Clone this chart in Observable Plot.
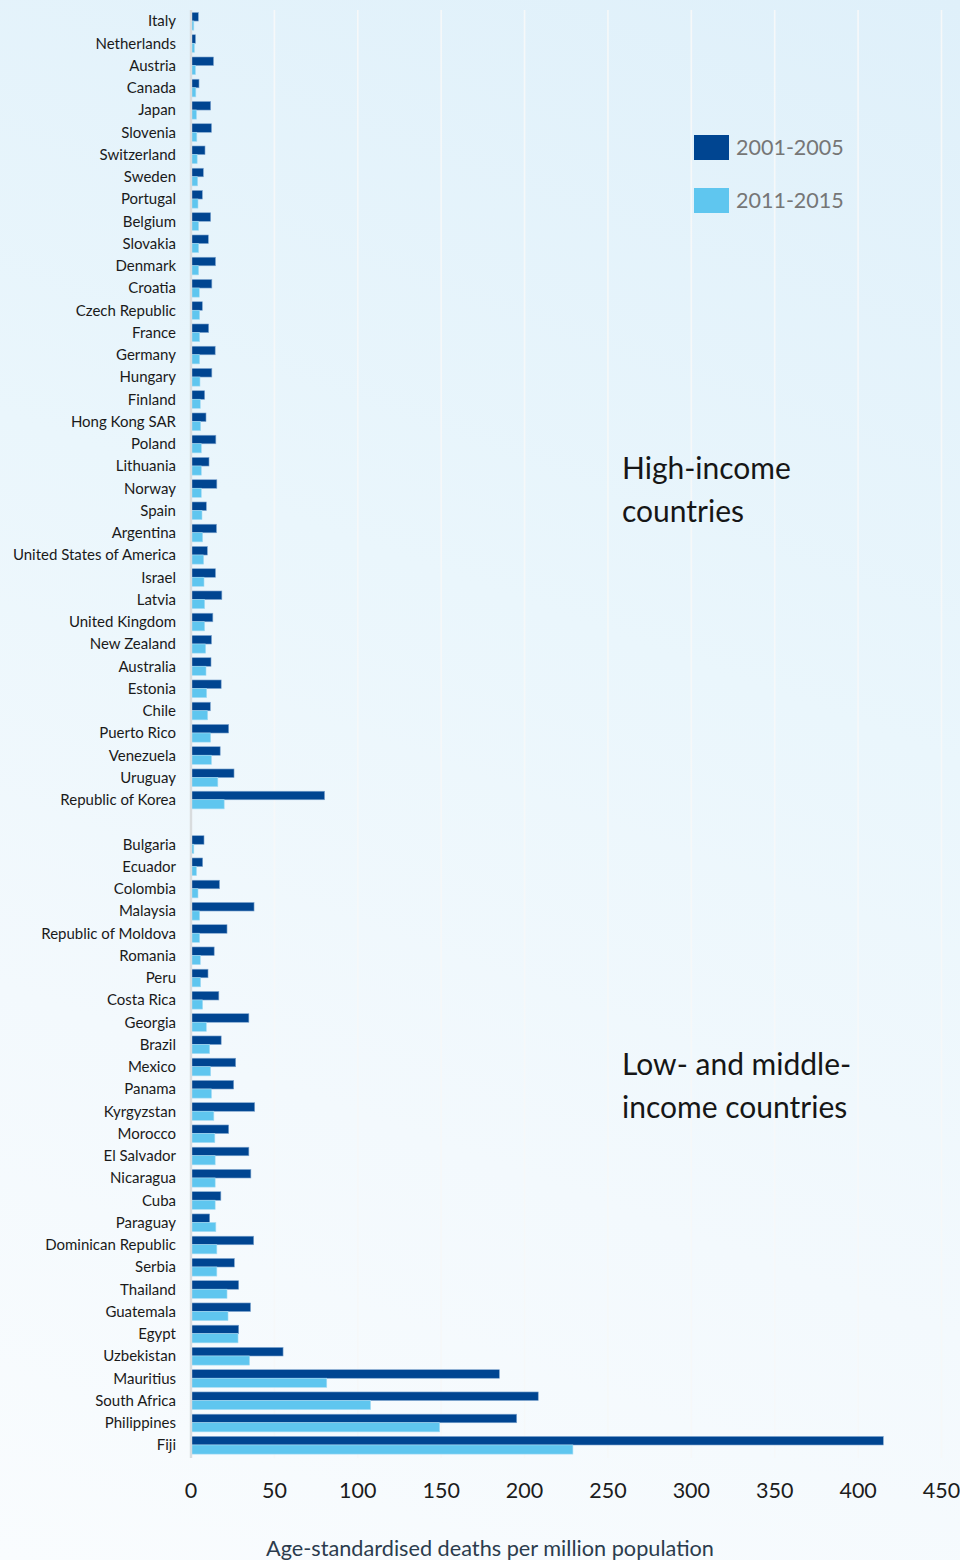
<!DOCTYPE html>
<html>
<head>
<meta charset="utf-8">
<script src="https://cdn.jsdelivr.net/npm/d3@7"></script>
<script src="https://cdn.jsdelivr.net/npm/@observablehq/plot@0.6"></script>
<style>
  html, body { margin: 0; padding: 0; }
  body { width: 960px; height: 1560px; overflow: hidden; }
  #wrap {
    position: relative; width: 960px; height: 1560px;
    background: linear-gradient(200deg, #dff0fa 0%, #eaf6fc 40%, #f3f9fd 70%, #f9fcfe 100%);
    font-family: Lato, "Open Sans", sans-serif;
  }
  #chart svg { display: block; background: transparent; overflow: visible; }
  .legend { position: absolute; left: 694px; display: flex; align-items: center; font-size: 21.5px; color: #767676; }
  .legend .sw { width: 35px; height: 25px; margin-right: 7px; }
  .note { position: absolute; left: 622px; font-size: 30px; line-height: 43px; color: #161616; }
  .xtitle { position: absolute; left: 266px; top: 1535px; font-size: 21.7px; color: #2b3c4d; white-space: nowrap; }
</style>
</head>
<body>
<div id="wrap">
  <div id="chart"></div>
</div>
<script>
// ---- data ----
const highCountries = ["Italy","Netherlands","Austria","Canada","Japan","Slovenia","Switzerland","Sweden","Portugal","Belgium","Slovakia","Denmark","Croatia","Czech Republic","France","Germany","Hungary","Finland","Hong Kong SAR","Poland","Lithuania","Norway","Spain","Argentina","United States of America","Israel","Latvia","United Kingdom","New Zealand","Australia","Estonia","Chile","Puerto Rico","Venezuela","Uruguay","Republic of Korea"];
const high2001_2005 = [4.7,3.0,13.8,5.1,12.1,12.6,8.7,7.7,7.1,12.1,10.7,15.0,12.8,7.1,10.9,14.8,12.8,8.5,9.3,15.2,11.1,15.8,9.5,15.6,10.1,15.0,18.8,13.4,12.6,12.3,18.4,11.9,22.9,17.8,26.1,80.4];
const high2011_2015 = [2.0,2.4,3.0,3.2,3.6,3.8,4.0,4.3,4.5,4.9,4.9,4.9,5.3,5.5,5.5,5.5,5.7,5.9,6.1,6.5,6.5,6.5,6.9,7.3,7.9,8.1,8.5,8.5,9.1,9.3,9.7,10.3,12.1,12.6,16.4,20.2];

const lowCountries = ["Bulgaria","Ecuador","Colombia","Malaysia","Republic of Moldova","Romania","Peru","Costa Rica","Georgia","Brazil","Mexico","Panama","Kyrgyzstan","Morocco","El Salvador","Nicaragua","Cuba","Paraguay","Dominican Republic","Serbia","Thailand","Guatemala","Egypt","Uzbekistan","Mauritius","South Africa","Philippines","Fiji"];
const low2001_2005 = [8.1,7.3,17.4,38.1,21.9,14.2,10.5,17.0,35.0,18.4,27.1,25.9,38.5,22.9,35.0,36.2,18.2,11.5,37.9,26.3,28.9,36.0,28.9,55.5,185.2,208.5,195.6,415.4];
const low2011_2015 = [2.0,3.6,4.5,5.5,5.5,5.9,6.1,7.3,9.5,11.5,12.1,12.6,14.0,14.6,14.8,14.8,14.8,15.2,15.8,15.8,21.9,22.5,28.5,35.4,81.7,108,149.4,229.3];

const periods = ["2001-2005", "2011-2015"];
const colors = ["#004591", "#5fc6ef"];
const xTicks = [0,50,100,150,200,250,300,350,400,450];
const groupNotes = [["High-income", "countries"], ["Low- and middle-", "income countries"]];
const axisTitle = "Age-standardised deaths per million population";

// ---- build table ----
const SPACER = "\u2007";
const yDomain = [...highCountries, SPACER, ...lowCountries];
const rows = [];
highCountries.forEach((c, i) => {
  rows.push({country: c, period: periods[0], value: high2001_2005[i]});
  rows.push({country: c, period: periods[1], value: high2011_2015[i]});
});
lowCountries.forEach((c, i) => {
  rows.push({country: c, period: periods[0], value: low2001_2005[i]});
  rows.push({country: c, period: periods[1], value: low2011_2015[i]});
});

const W = 960, H = 1560;
const mTop = 9.9, mBottom = 103.9, mLeft = 190.5, mRight = 19;

const plot = Plot.plot({
  width: W, height: H,
  marginTop: mTop, marginBottom: mBottom, marginLeft: mLeft, marginRight: mRight,
  style: {background: "transparent", fontFamily: "Lato, 'Open Sans', sans-serif", overflow: "visible"},
  x: {domain: [0, 450], ticks: xTicks, label: null},
  y: {domain: yDomain, padding: 0, round: false, label: null},
  marks: [
    Plot.ruleX(xTicks.slice(1), {stroke: "#f6f8f9", strokeWidth: 1.6, insetBottom: -2}),
    Plot.barX(rows.filter(d => d.period === periods[0]), {
      x: "value", y: "country", fill: colors[0], insetTop: 2.6, insetBottom: 11.1,
      stroke: "#7fa6cf", strokeWidth: 0.6
    }),
    Plot.barX(rows.filter(d => d.period === periods[1]), {
      x: "value", y: "country", fill: colors[1], insetTop: 11.1, insetBottom: 2.0,
      stroke: "#a9ddf3", strokeWidth: 0.6
    }),
    Plot.ruleX([0], {stroke: "#d9dcde", strokeWidth: 2.4, insetBottom: -2}),
    Plot.axisY({tickSize: 0, tickPadding: 15, fontSize: 15, color: "#1a1a1a", label: null,
      tickFormat: d => d === SPACER ? "" : d}),
    Plot.axisX({ticks: xTicks, tickSize: 0, tickPadding: 26, fontSize: 21.5, color: "#1c1c1c", label: null,
      tickFormat: d => String(d)})
  ]
});
document.getElementById("chart").appendChild(plot);

// ---- overlays: legend, group notes, axis title ----
const wrap = document.getElementById("wrap");
const legendTops = [134, 187];
periods.forEach((p, i) => {
  const el = document.createElement("div");
  el.className = "legend";
  el.style.top = legendTops[i] + "px";
  el.innerHTML = `<span class="sw" style="background:${colors[i]}"></span><span>${p}</span>`;
  wrap.appendChild(el);
});
const noteTops = [446, 1042];
groupNotes.forEach((lines, i) => {
  const el = document.createElement("div");
  el.className = "note";
  el.style.top = noteTops[i] + "px";
  el.innerHTML = lines.join("<br>");
  wrap.appendChild(el);
});
const t = document.createElement("div");
t.className = "xtitle";
t.textContent = axisTitle;
wrap.appendChild(t);
</script>
</body>
</html>
